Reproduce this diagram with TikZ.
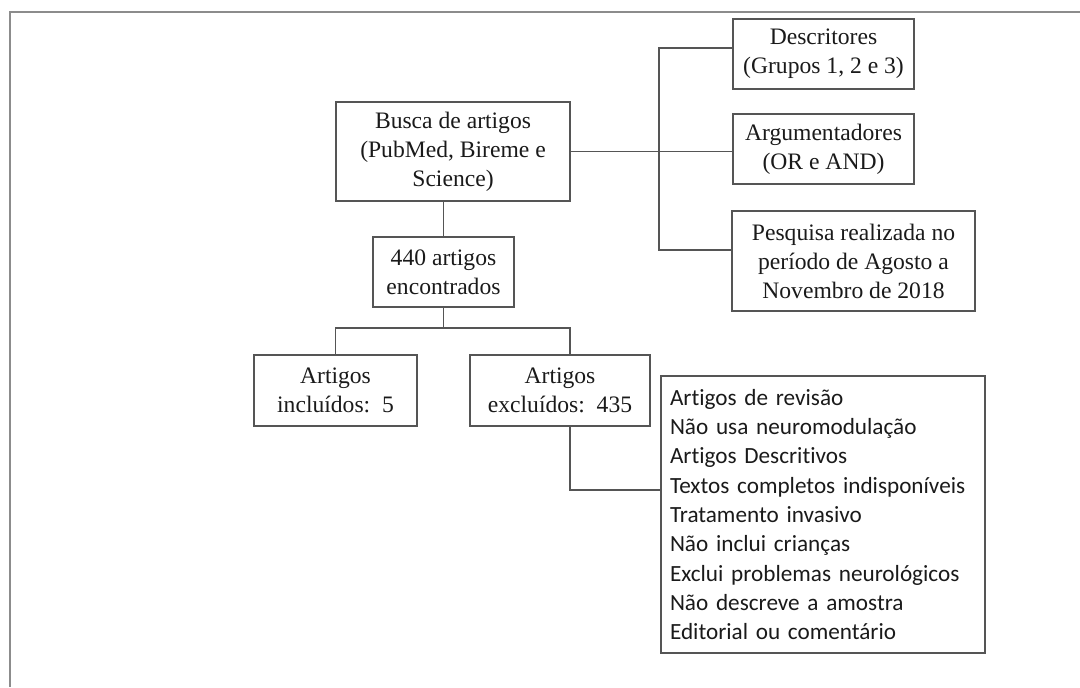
\documentclass[tikz,border=0pt]{standalone}
\usepackage{fontspec}
\setmainfont{Liberation Serif}
\newfontfamily\listfont[Ligatures=NoCommon]{Carlito}
\definecolor{linegray}{HTML}{555555}
\definecolor{framegray}{HTML}{8C8C8C}
\definecolor{textgray}{HTML}{1A1A1A}
\begin{document}
\begin{tikzpicture}[x=0.5pt,y=-0.5pt,
  box/.style={draw=linegray, line width=0.9pt, align=center, inner sep=0pt,
    text=textgray, font=\fontsize{11.8}{14.5}\selectfont},
  link/.style={draw=linegray, line width=0.9pt}]
\useasboundingbox (0,0) rectangle (1080,687);
% outer frame (top and left only)
\draw [framegray, line width=1pt] (1080,12) -- (10,12) -- (10,687);

% boxes
\node [box, minimum width=117pt, minimum height=49.5pt] (busca) at (453,151.5)
  {Busca de artigos\\(PubMed, Bireme e\\Science)};
\node [box, minimum width=70.5pt, minimum height=35pt] (enc) at (443.5,272)
  {440 artigos\\encontrados};
\node [box, minimum width=81.5pt, minimum height=35.5pt] (incl) at (335.5,390.5)
  {Artigos\\inclu\'idos:\ \ 5};
\node [box, minimum width=90pt, minimum height=35.5pt] (excl) at (560,390.5)
  {Artigos\\exclu\'idos:\ \ 435};
\node [box, minimum width=90.5pt, minimum height=35pt] (desc) at (823.5,54)
  {Descritores\\(Grupos 1, 2 e 3)};
\node [box, minimum width=90.5pt, minimum height=35pt] (arg) at (823.5,149)
  {Argumentadores\\(OR e AND)};
\node [box, minimum width=121.5pt, minimum height=50pt] (pesq) at (853.5,261)
  {Pesquisa realizada no\\per\'iodo de Agosto a\\Novembro de 2018};
\node [box, align=left, minimum width=162pt, minimum height=138.5pt,
  text width=153pt, inner xsep=4.5pt, font=\listfont\fontsize{11.6}{14.65}\selectfont]
  (lista) at (823,514.5)
  {Artigos de revis\~ao\\
   N\~ao usa neuromodula\c{c}\~ao\\
   Artigos Descritivos\\
   Textos completos indispon\'iveis\\
   Tratamento invasivo\\
   N\~ao inclui crian\c{c}as\\
   Exclui problemas neurol\'ogicos\\
   N\~ao descreve a amostra\\
   Editorial ou coment\'ario};

% connectors
\coordinate (fork) at (443.5,328);
\coordinate (forkL) at (335.5,328);
\coordinate (forkR) at (570,328);
\coordinate (bend) at (570,490);
\coordinate (rail) at (659,151);
\draw [link] (busca.south -| enc.north) -- (enc.north);
\draw [link] (enc.south) -- (fork);
\draw [link] (incl.north) -- (forkL) -- (forkR) -- (forkR |- excl.north);
\draw [link] (forkR |- excl.south) -- (bend) -- (bend -| lista.west);
\draw [link] (busca.east) -- (busca.east -| arg.west);
\draw [link] (desc.west |- 0,48) -- (rail |- 0,48) -- (rail |- 0,250) -- (pesq.west |- 0,250);
\end{tikzpicture}
\end{document}
